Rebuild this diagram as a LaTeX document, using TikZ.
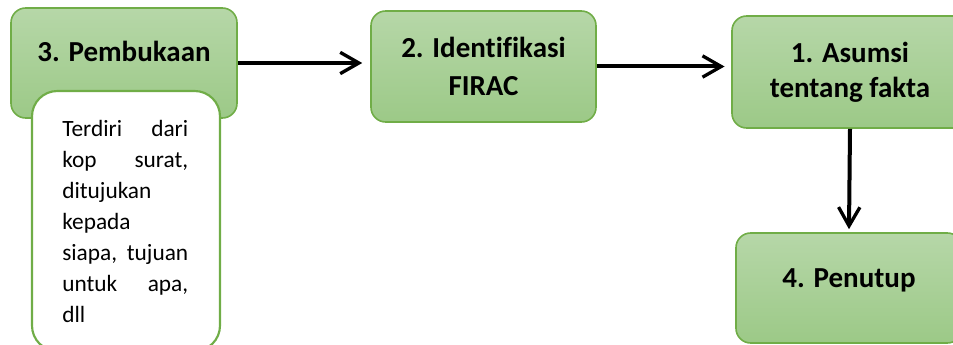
\documentclass[tikz,border=0pt]{standalone}
\usepackage{fontspec}
\setmainfont{Carlito}[Ligatures=NoCommon]
\usetikzlibrary{arrows.meta}
\definecolor{gtop}{HTML}{B6D7A8}
\definecolor{gbot}{HTML}{9CC987}
\definecolor{gline}{HTML}{70AD47}
\newcommand\jline[2]{\leavevmode\hbox to 94.5pt{#1\hfill #2}}
\begin{document}
\begin{tikzpicture}[x=0.75pt,y=-0.75pt,
  box/.style={draw=gline, line width=1.2pt, rounded corners=11pt, top color=gtop, bottom color=gbot, inner sep=0pt},
  headfont/.style={font=\fontsize{21.75}{29}\selectfont\bfseries, align=center},
  head/.style={headfont, inner sep=0pt},
  note/.style={draw=gline, line width=1.6pt, fill=white, rounded corners=19pt, inner sep=0pt},
  body/.style={font=\fontsize{17.5}{23.25}\selectfont, text width=94.5pt, align=left, inner sep=0pt},
  conn/.style={line width=3pt, -{Straight Barb[length=14pt,width=16pt,line width=2.5pt]}}]
\useasboundingbox (0,0) rectangle (953,345);
\clip (0,0) rectangle (953,345);
% box 3
\node[box, minimum width=169.5pt, minimum height=82.5pt] (b3) at (124,63) {};
\node[head, anchor=base] (t3) at (124,62) {3. Pembukaan};
\node[note, minimum width=141pt, minimum height=195pt] (w) at (126,221) {};
\node[body, anchor=north west] (wt) at (62,120) {%
\jline{Terdiri}{dari}\\
\jline{kop}{surat,}\\
ditujukan\\
kepada\\
\jline{siapa,}{tujuan}\\
\jline{untuk}{apa,}\\
dll};
% box 2
\node[box, headfont, minimum width=168.75pt, minimum height=83.25pt] (b2) at (483.5,66.5) {2. Identifikasi\\FIRAC};
% box 1
\node[box, headfont, font=\fontsize{21.75}{26}\selectfont\bfseries, minimum width=177pt, minimum height=84pt] (b1) at (850,72) {1. Asumsi\\tentang fakta};
% box 4
\node[box, minimum width=169.5pt, minimum height=82.5pt] (b4) at (849,288) {};
\node[head, anchor=base] (t4) at (849,287) {4. Penutup};
% connectors
\draw[conn] (b3.east) -- ([xshift=-6pt]b2.west |- b3.east);
\draw[conn] (b2.east) -- ([xshift=-5pt]b2.east -| b1.west);
\draw[conn] (b1.south) -- ([yshift=2.25pt]b4.north);
\end{tikzpicture}
\end{document}
